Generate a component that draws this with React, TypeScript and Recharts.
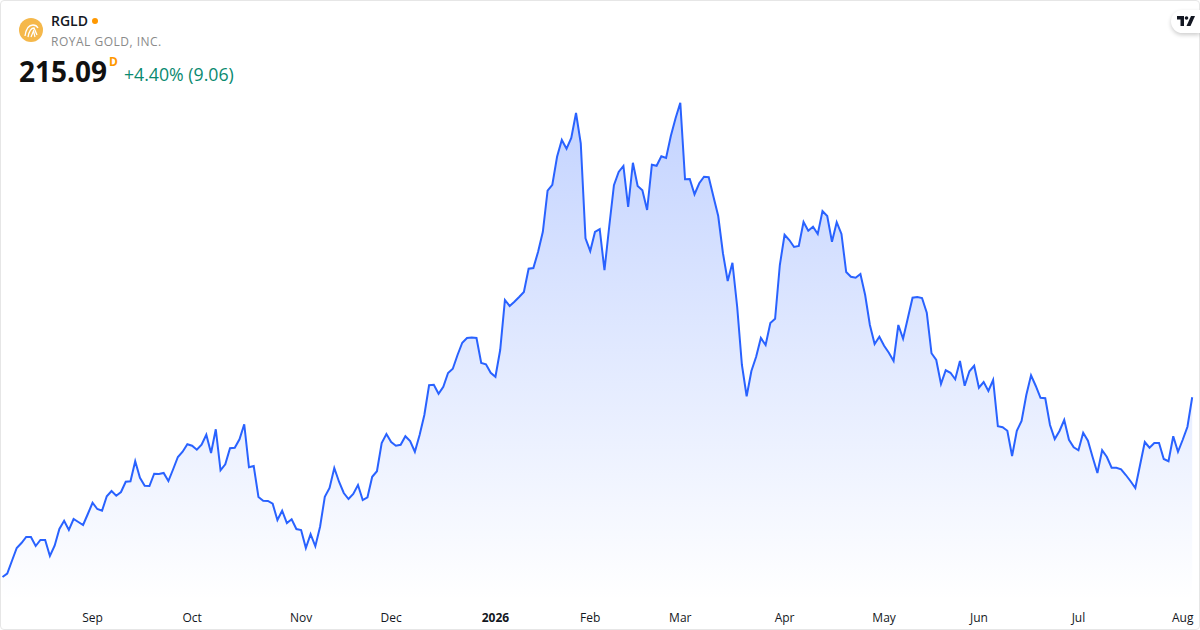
import { AreaChart, Area, XAxis, YAxis } from 'recharts';

const CLOSES = [
  143.2, 144.6, 149.7, 154.8, 156.8, 159.2, 159.2, 155.6, 158.0, 158.0, 151.6, 155.7, 162.4, 165.7, 162.0, 166.4, 165.2, 164.0,
  168.4, 172.9, 170.4, 169.7, 175.5, 177.6, 175.7, 177.2, 181.3, 181.5, 189.5, 182.9, 179.7, 179.6, 184.5, 184.4, 184.8, 181.6,
  186.3, 191.2, 193.3, 196.3, 195.7, 194.1, 196.1, 200.1, 192.8, 202.3, 185.9, 188.3, 194.7, 194.9, 198.3, 204.3, 187.1, 187.6,
  175.2, 173.7, 173.6, 172.5, 166.0, 169.7, 164.8, 166.3, 162.4, 162.0, 154.8, 160.3, 155.5, 163.3, 175.3, 178.8, 186.8, 181.3,
  176.8, 174.4, 176.4, 180.0, 174.0, 175.1, 183.3, 185.5, 196.8, 200.4, 197.2, 195.7, 196.1, 199.5, 197.6, 193.3, 200.0, 208.0,
  219.9, 220.1, 216.5, 219.3, 224.8, 226.5, 232.0, 236.9, 238.8, 239.0, 238.8, 228.8, 228.3, 224.9, 223.3, 234.0,
  254.0, 251.6, 253.3, 255.2, 257.2, 266.5, 266.8, 273.3, 281.3, 297.7, 300.1, 311.3, 318.0, 314.5, 318.8, 328.8, 316.7, 278.7,
  273.6, 281.2, 282.3, 265.9, 283.3, 299.9, 305.2, 307.6, 291.2, 308.9, 299.6, 297.9, 290.0, 308.1, 307.7, 311.5, 310.8, 319.6,
  326.7, 332.9, 302.3, 302.4, 296.3, 300.7, 303.3, 303.1, 295.3, 287.6, 272.7, 261.6, 268.9, 251.3,
  228.0, 215.5, 225.6, 231.3, 238.8, 236.0, 244.8, 246.5, 268.0, 280.1, 278.0, 275.2, 275.6, 285.2, 281.7, 283.3, 280.4, 289.6,
  287.6, 277.3, 285.1, 280.4, 265.2, 263.3, 262.9, 264.4, 256.0, 244.0, 236.4, 239.3, 235.7, 232.9, 229.6, 244.0, 238.5, 246.7,
  254.9, 255.2, 254.8, 248.9, 232.7, 230.0, 220.4, 225.9, 224.9, 222.3, 229.6, 219.7, 225.5, 227.7, 218.9, 221.2, 217.6, 222.0,
  203.5, 203.1, 201.7, 191.6, 201.7, 205.6, 216.0, 223.9, 219.6, 214.9, 214.7, 204.0, 198.4, 201.6, 206.0, 198.1, 195.1, 193.9,
  200.9, 197.7, 191.1, 184.8, 193.9, 191.2, 186.9, 186.9, 186.3, 184.0, 181.5, 178.8, 188.0, 197.2, 194.9, 196.8, 196.8, 190.4,
  189.5, 199.5, 193.3, 198.1, 203.3, 215.09,
];

const TICK_DAYS = [19, 40, 63, 82, 104, 124, 143, 165, 186, 206, 227, 249];
const TICK_LABELS = ['Sep', 'Oct', 'Nov', 'Dec', '2026', 'Feb', 'Mar', 'Apr', 'May', 'Jun', 'Jul', 'Aug'];

const FONT = '"Open Sans", sans-serif';
const chartData = CLOSES.map((close, day) => ({ day, close }));

function MonthTick({ x, y, payload }: any) {
  const label = TICK_LABELS[TICK_DAYS.indexOf(payload.value)];
  return (
    <text
      x={x}
      y={y + 14}
      textAnchor="middle"
      fontFamily={FONT}
      fontSize={12}
      fontWeight={label === '2026' ? 700 : 400}
      fill="#131722"
    >
      {label}
    </text>
  );
}

function Header() {
  return (
    <div style={{ position: 'absolute', left: 0, top: 0, fontFamily: FONT }}>
      <svg width={24} height={24} style={{ position: 'absolute', left: 19, top: 18 }} viewBox="0 0 24 24">
        <circle cx={12} cy={12} r={12} fill="#f5b84b" />
        <path d="M6 18 C7 11 10 7 14 7 C16 7 18 8 19 10" fill="none" stroke="#fff" strokeWidth={1.3} />
        <path d="M9 19 C10 14 12 10 15 10 L18 17" fill="none" stroke="#fff" strokeWidth={1.3} />
        <path d="M12 19 L14.5 13 L16 19" fill="none" stroke="#fff" strokeWidth={1.2} />
      </svg>
      <div style={{ position: 'absolute', left: 51, top: 11, fontSize: 14, fontWeight: 600, color: '#131722', whiteSpace: 'nowrap' }}>
        RGLD
      </div>
      <div style={{ position: 'absolute', left: 92, top: 18, width: 6, height: 6, borderRadius: 3, background: '#ff9800' }} />
      <div style={{ position: 'absolute', left: 51, top: 33, fontSize: 12, color: '#8a8a8a', letterSpacing: 0.5, whiteSpace: 'nowrap' }}>
        ROYAL GOLD, INC.
      </div>
      <div style={{ position: 'absolute', left: 19, top: 52, fontSize: 28, fontWeight: 700, color: '#111111', whiteSpace: 'nowrap' }}>
        215.09
      </div>
      <div style={{ position: 'absolute', left: 109, top: 53, fontSize: 12, fontWeight: 700, color: '#ff9800' }}>D</div>
      <div style={{ position: 'absolute', left: 124, top: 62, fontSize: 17.7, color: '#0a8a70', whiteSpace: 'nowrap' }}>
        +4.40% (9.06)
      </div>
    </div>
  );
}

function TvBadge() {
  return (
    <div
      style={{
        position: 'absolute',
        left: 1171,
        top: 10,
        width: 29,
        height: 23,
        background: '#fff',
        borderRadius: '12px 0 0 12px',
        boxShadow: '0 2px 4px rgba(0,0,0,0.2)',
      }}
    >
      <svg width={18} height={10} viewBox="0 0 18 10" style={{ position: 'absolute', left: 6, top: 6 }}>
        <path d="M0 0 H7 V10 H3.5 V3.5 H0 Z" fill="#131722" />
        <circle cx={9.5} cy={2} r={1.8} fill="#131722" />
        <path d="M14 0 H18 L13.5 10 H9.5 Z" fill="#131722" />
      </svg>
    </div>
  );
}

export default function App() {
  return (
    <div style={{ position: 'absolute', left: 0, top: 0, width: 1200, height: 630, background: '#fff', overflow: 'hidden' }}>
      <AreaChart
        width={1200}
        height={630}
        data={chartData}
        margin={{ top: 0, right: 7.8, bottom: 0, left: 2.5 }}
      >
        <defs>
          <linearGradient id="closeFill" x1="0" y1="0" x2="0" y2="1">
            <stop offset="0%" stopColor="#2962ff" stopOpacity={0.28} />
            <stop offset="100%" stopColor="#2962ff" stopOpacity={0} />
          </linearGradient>
        </defs>
        <XAxis
          dataKey="day"
          type="number"
          domain={[0, 251]}
          ticks={TICK_DAYS}
          interval={0}
          height={30}
          axisLine={false}
          tickLine={false}
          tick={MonthTick}
        />
        <YAxis hide width={0} domain={[134, 374]} />
        <Area
          type="linear"
          dataKey="close"
          stroke="#2962ff"
          strokeWidth={2}
          fill="url(#closeFill)"
          fillOpacity={1}
          dot={false}
          activeDot={false}
          isAnimationActive={false}
        />
      </AreaChart>
      <div
        style={{
          position: 'absolute',
          left: 0,
          top: 0,
          width: 1200,
          height: 630,
          boxSizing: 'border-box',
          border: '1px solid #e6e6e6',
          borderRadius: 4,
        }}
      />
      <Header />
      <TvBadge />
    </div>
  );
}
